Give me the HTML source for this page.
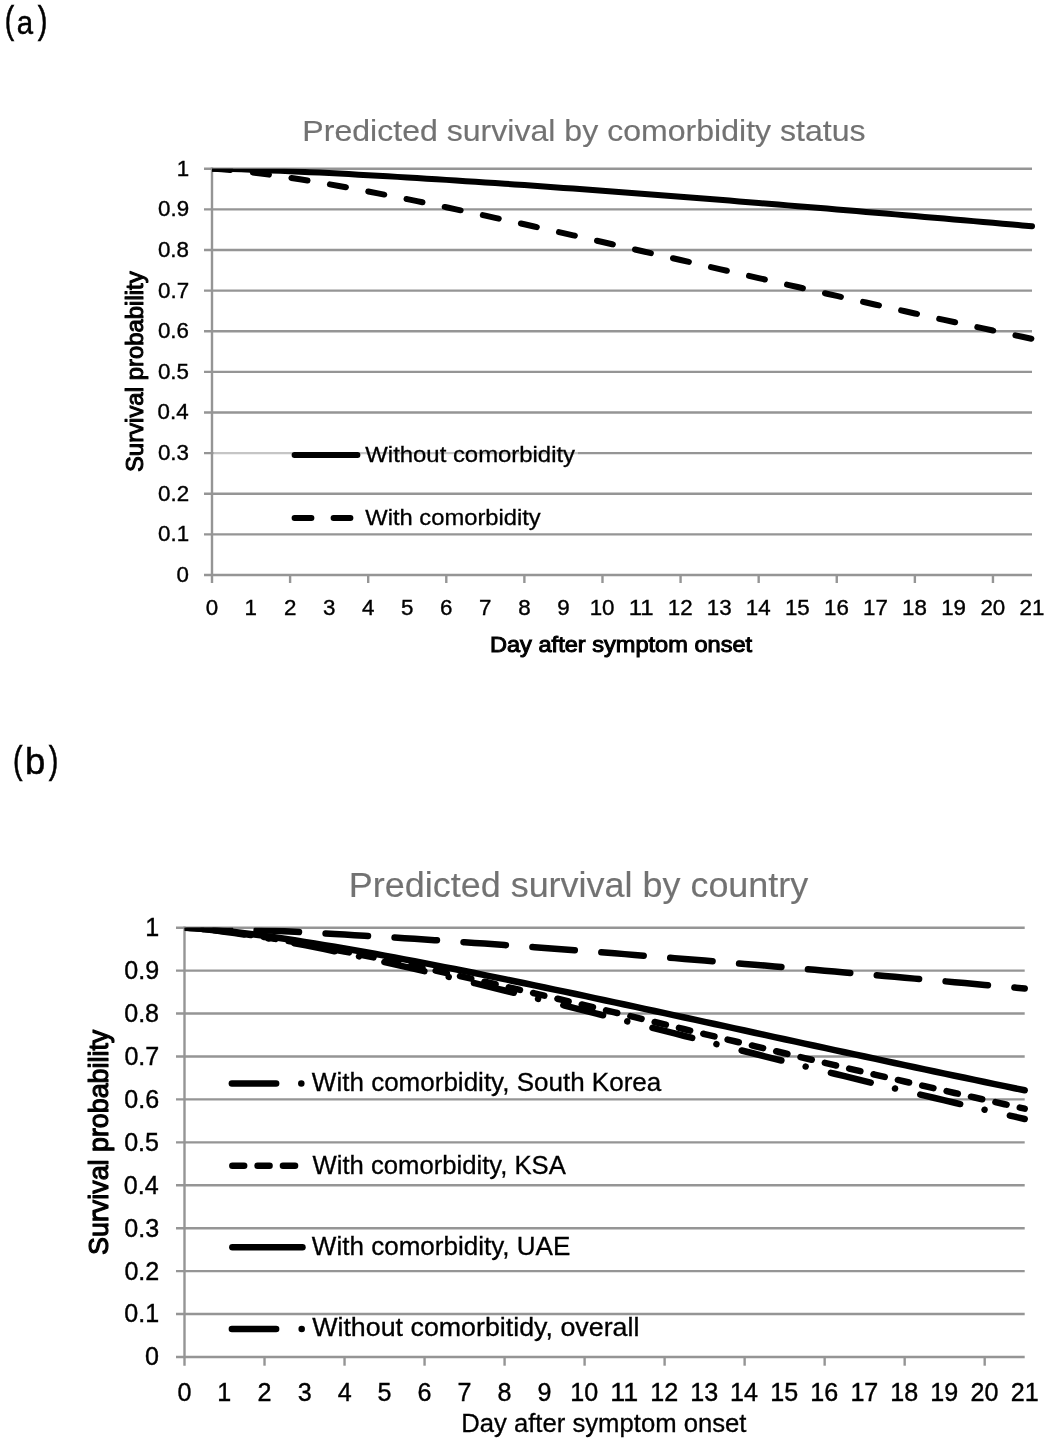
<!DOCTYPE html>
<html><head><meta charset="utf-8"><style>
html,body{margin:0;padding:0;background:#fff;width:1050px;height:1444px;overflow:hidden;position:relative;font-family:"Liberation Sans", sans-serif;}
</style></head><body>
<svg width="1050" height="1444" viewBox="0 0 1050 1444" style="position:absolute;left:0;top:0;will-change:transform">
<defs><clipPath id="ca"><rect x="212" y="168.7" width="830" height="420"/></clipPath><clipPath id="cb"><rect x="184.5" y="927.7" width="850" height="440"/></clipPath></defs>
<g font-family='"Liberation Sans", sans-serif'>
<text x="4.75" y="33.20" font-size="38.00" font-weight="normal" fill="#000" stroke="#000" stroke-width="0.6" textLength="9.42" lengthAdjust="spacingAndGlyphs">(</text>
<text x="16.65" y="34.00" font-size="33.40" font-weight="normal" fill="#000" stroke="#000" stroke-width="0.5" textLength="16.35" lengthAdjust="spacingAndGlyphs">a</text>
<text x="37.83" y="33.20" font-size="38.00" font-weight="normal" fill="#000" stroke="#000" stroke-width="0.6" textLength="9.67" lengthAdjust="spacingAndGlyphs">)</text>
<text x="302.37" y="141.10" font-size="30.20" font-weight="normal" fill="#727272" stroke="#727272" stroke-width="0.15" textLength="563.19" lengthAdjust="spacingAndGlyphs">Predicted survival by comorbidity status</text>
<line x1="204" y1="534.37" x2="1032" y2="534.37" stroke="#959595" stroke-width="2.4"/>
<line x1="204" y1="493.74" x2="1032" y2="493.74" stroke="#959595" stroke-width="2.4"/>
<line x1="204" y1="453.11" x2="1032" y2="453.11" stroke="#959595" stroke-width="2.4"/>
<line x1="204" y1="412.48" x2="1032" y2="412.48" stroke="#959595" stroke-width="2.4"/>
<line x1="204" y1="371.85" x2="1032" y2="371.85" stroke="#959595" stroke-width="2.4"/>
<line x1="204" y1="331.22" x2="1032" y2="331.22" stroke="#959595" stroke-width="2.4"/>
<line x1="204" y1="290.59" x2="1032" y2="290.59" stroke="#959595" stroke-width="2.4"/>
<line x1="204" y1="249.96" x2="1032" y2="249.96" stroke="#959595" stroke-width="2.4"/>
<line x1="204" y1="209.33" x2="1032" y2="209.33" stroke="#959595" stroke-width="2.4"/>
<line x1="204" y1="168.70" x2="1032" y2="168.70" stroke="#959595" stroke-width="2.4"/>
<line x1="204" y1="575" x2="1032" y2="575" stroke="#959595" stroke-width="2.4"/>
<line x1="212" y1="167.5" x2="212" y2="583" stroke="#959595" stroke-width="2.4"/>
<line x1="290.10" y1="575" x2="290.10" y2="583" stroke="#959595" stroke-width="2.4"/>
<line x1="368.19" y1="575" x2="368.19" y2="583" stroke="#959595" stroke-width="2.4"/>
<line x1="446.29" y1="575" x2="446.29" y2="583" stroke="#959595" stroke-width="2.4"/>
<line x1="524.38" y1="575" x2="524.38" y2="583" stroke="#959595" stroke-width="2.4"/>
<line x1="602.48" y1="575" x2="602.48" y2="583" stroke="#959595" stroke-width="2.4"/>
<line x1="680.57" y1="575" x2="680.57" y2="583" stroke="#959595" stroke-width="2.4"/>
<line x1="758.67" y1="575" x2="758.67" y2="583" stroke="#959595" stroke-width="2.4"/>
<line x1="836.76" y1="575" x2="836.76" y2="583" stroke="#959595" stroke-width="2.4"/>
<line x1="914.86" y1="575" x2="914.86" y2="583" stroke="#959595" stroke-width="2.4"/>
<line x1="992.95" y1="575" x2="992.95" y2="583" stroke="#959595" stroke-width="2.4"/>
<text x="176.45" y="582.00" font-size="22.80" font-weight="normal" fill="#000" stroke="#000" stroke-width="0.4" textLength="12.43" lengthAdjust="spacingAndGlyphs">0</text>
<text x="158.03" y="541.37" font-size="22.80" font-weight="normal" fill="#000" stroke="#000" stroke-width="0.4" textLength="31.06" lengthAdjust="spacingAndGlyphs">0.1</text>
<text x="158.06" y="500.74" font-size="22.80" font-weight="normal" fill="#000" stroke="#000" stroke-width="0.4" textLength="31.06" lengthAdjust="spacingAndGlyphs">0.2</text>
<text x="157.92" y="460.11" font-size="22.80" font-weight="normal" fill="#000" stroke="#000" stroke-width="0.4" textLength="31.06" lengthAdjust="spacingAndGlyphs">0.3</text>
<text x="157.59" y="419.48" font-size="22.80" font-weight="normal" fill="#000" stroke="#000" stroke-width="0.4" textLength="31.06" lengthAdjust="spacingAndGlyphs">0.4</text>
<text x="157.88" y="378.85" font-size="22.80" font-weight="normal" fill="#000" stroke="#000" stroke-width="0.4" textLength="31.06" lengthAdjust="spacingAndGlyphs">0.5</text>
<text x="157.92" y="338.22" font-size="22.80" font-weight="normal" fill="#000" stroke="#000" stroke-width="0.4" textLength="31.06" lengthAdjust="spacingAndGlyphs">0.6</text>
<text x="158.06" y="297.59" font-size="22.80" font-weight="normal" fill="#000" stroke="#000" stroke-width="0.4" textLength="31.06" lengthAdjust="spacingAndGlyphs">0.7</text>
<text x="157.91" y="256.96" font-size="22.80" font-weight="normal" fill="#000" stroke="#000" stroke-width="0.4" textLength="31.06" lengthAdjust="spacingAndGlyphs">0.8</text>
<text x="158.00" y="216.33" font-size="22.80" font-weight="normal" fill="#000" stroke="#000" stroke-width="0.4" textLength="31.06" lengthAdjust="spacingAndGlyphs">0.9</text>
<text x="176.66" y="175.70" font-size="22.80" font-weight="normal" fill="#000" stroke="#000" stroke-width="0.4" textLength="12.43" lengthAdjust="spacingAndGlyphs">1</text>
<text x="205.79" y="614.50" font-size="22.80" font-weight="normal" fill="#000" stroke="#000" stroke-width="0.4" textLength="12.43" lengthAdjust="spacingAndGlyphs">0</text>
<text x="244.53" y="614.50" font-size="22.80" font-weight="normal" fill="#000" stroke="#000" stroke-width="0.4" textLength="12.43" lengthAdjust="spacingAndGlyphs">1</text>
<text x="283.88" y="614.50" font-size="22.80" font-weight="normal" fill="#000" stroke="#000" stroke-width="0.4" textLength="12.43" lengthAdjust="spacingAndGlyphs">2</text>
<text x="322.99" y="614.50" font-size="22.80" font-weight="normal" fill="#000" stroke="#000" stroke-width="0.4" textLength="12.43" lengthAdjust="spacingAndGlyphs">3</text>
<text x="362.05" y="614.50" font-size="22.80" font-weight="normal" fill="#000" stroke="#000" stroke-width="0.4" textLength="12.43" lengthAdjust="spacingAndGlyphs">4</text>
<text x="401.05" y="614.50" font-size="22.80" font-weight="normal" fill="#000" stroke="#000" stroke-width="0.4" textLength="12.43" lengthAdjust="spacingAndGlyphs">5</text>
<text x="440.00" y="614.50" font-size="22.80" font-weight="normal" fill="#000" stroke="#000" stroke-width="0.4" textLength="12.43" lengthAdjust="spacingAndGlyphs">6</text>
<text x="479.11" y="614.50" font-size="22.80" font-weight="normal" fill="#000" stroke="#000" stroke-width="0.4" textLength="12.43" lengthAdjust="spacingAndGlyphs">7</text>
<text x="518.17" y="614.50" font-size="22.80" font-weight="normal" fill="#000" stroke="#000" stroke-width="0.4" textLength="12.43" lengthAdjust="spacingAndGlyphs">8</text>
<text x="557.22" y="614.50" font-size="22.80" font-weight="normal" fill="#000" stroke="#000" stroke-width="0.4" textLength="12.43" lengthAdjust="spacingAndGlyphs">9</text>
<text x="589.63" y="614.50" font-size="22.80" font-weight="normal" fill="#000" stroke="#000" stroke-width="0.4" textLength="24.85" lengthAdjust="spacingAndGlyphs">10</text>
<text x="628.79" y="614.50" font-size="22.80" font-weight="normal" fill="#000" stroke="#000" stroke-width="0.4" textLength="24.85" lengthAdjust="spacingAndGlyphs">11</text>
<text x="667.86" y="614.50" font-size="22.80" font-weight="normal" fill="#000" stroke="#000" stroke-width="0.4" textLength="24.85" lengthAdjust="spacingAndGlyphs">12</text>
<text x="706.83" y="614.50" font-size="22.80" font-weight="normal" fill="#000" stroke="#000" stroke-width="0.4" textLength="24.85" lengthAdjust="spacingAndGlyphs">13</text>
<text x="745.72" y="614.50" font-size="22.80" font-weight="normal" fill="#000" stroke="#000" stroke-width="0.4" textLength="24.85" lengthAdjust="spacingAndGlyphs">14</text>
<text x="784.91" y="614.50" font-size="22.80" font-weight="normal" fill="#000" stroke="#000" stroke-width="0.4" textLength="24.85" lengthAdjust="spacingAndGlyphs">15</text>
<text x="823.98" y="614.50" font-size="22.80" font-weight="normal" fill="#000" stroke="#000" stroke-width="0.4" textLength="24.85" lengthAdjust="spacingAndGlyphs">16</text>
<text x="863.09" y="614.50" font-size="22.80" font-weight="normal" fill="#000" stroke="#000" stroke-width="0.4" textLength="24.85" lengthAdjust="spacingAndGlyphs">17</text>
<text x="902.06" y="614.50" font-size="22.80" font-weight="normal" fill="#000" stroke="#000" stroke-width="0.4" textLength="24.85" lengthAdjust="spacingAndGlyphs">18</text>
<text x="941.16" y="614.50" font-size="22.80" font-weight="normal" fill="#000" stroke="#000" stroke-width="0.4" textLength="24.85" lengthAdjust="spacingAndGlyphs">19</text>
<text x="980.40" y="614.50" font-size="22.80" font-weight="normal" fill="#000" stroke="#000" stroke-width="0.4" textLength="24.85" lengthAdjust="spacingAndGlyphs">20</text>
<text x="1019.56" y="614.50" font-size="22.80" font-weight="normal" fill="#000" stroke="#000" stroke-width="0.4" textLength="24.85" lengthAdjust="spacingAndGlyphs">21</text>
<rect x="213.5" y="451" width="364.5" height="4" fill="#fff" opacity="0.45"/>
<text transform="translate(143.3,0) rotate(-90)" x="-472.09" y="0" font-size="23.30" font-weight="normal" stroke="#000" stroke-width="1.0" stroke-linejoin="round" textLength="200.73" lengthAdjust="spacingAndGlyphs">Survival probability</text>
<text x="489.96" y="652.00" font-size="22.40" font-weight="normal" fill="#000" stroke="#000" stroke-width="1.0" textLength="262.21" lengthAdjust="spacingAndGlyphs">Day after symptom onset</text>
<line x1="294.5" y1="455" x2="357.5" y2="455" stroke="#000" stroke-width="5.8" stroke-linecap="round"/>
<text x="365.30" y="461.70" font-size="21.60" font-weight="normal" fill="#000" stroke="#000" stroke-width="0.3" textLength="209.75" lengthAdjust="spacingAndGlyphs">Without comorbidity</text>
<line x1="294.5" y1="518" x2="311.5" y2="518" stroke="#000" stroke-width="5.8" stroke-linecap="round"/>
<line x1="333.5" y1="518" x2="350.5" y2="518" stroke="#000" stroke-width="5.8" stroke-linecap="round"/>
<text x="365.30" y="524.50" font-size="21.60" font-weight="normal" fill="#000" stroke="#000" stroke-width="0.3" textLength="175.45" lengthAdjust="spacingAndGlyphs">With comorbidity</text>
<path d="M212.00,168.70 L221.76,168.85 L231.52,169.09 L241.29,169.37 L251.05,169.70 L260.81,170.05 L270.57,170.42 L280.33,170.82 L290.10,171.25 L299.86,171.68 L309.62,172.14 L319.38,172.61 L329.14,173.10 L338.90,173.60 L348.67,174.12 L358.43,174.65 L368.19,175.19 L377.95,175.74 L387.71,176.30 L397.48,176.87 L407.24,177.46 L417.00,178.05 L426.76,178.65 L436.52,179.26 L446.29,179.88 L456.05,180.51 L465.81,181.14 L475.57,181.79 L485.33,182.44 L495.10,183.10 L504.86,183.76 L514.62,184.43 L524.38,185.11 L534.14,185.80 L543.90,186.49 L553.67,187.18 L563.43,187.89 L573.19,188.60 L582.95,189.31 L592.71,190.03 L602.48,190.76 L612.24,191.49 L622.00,192.22 L631.76,192.96 L641.52,193.71 L651.29,194.45 L661.05,195.21 L670.81,195.97 L680.57,196.73 L690.33,197.50 L700.10,198.27 L709.86,199.04 L719.62,199.82 L729.38,200.60 L739.14,201.39 L748.90,202.18 L758.67,202.97 L768.43,203.76 L778.19,204.56 L787.95,205.37 L797.71,206.17 L807.48,206.98 L817.24,207.79 L827.00,208.61 L836.76,209.42 L846.52,210.24 L856.29,211.07 L866.05,211.89 L875.81,212.72 L885.57,213.55 L895.33,214.38 L905.10,215.22 L914.86,216.05 L924.62,216.89 L934.38,217.73 L944.14,218.58 L953.90,219.42 L963.67,220.27 L973.43,221.12 L983.19,221.97 L992.95,222.83 L1002.71,223.68 L1012.48,224.54 L1022.24,225.40 L1032.00,226.26" fill="none" stroke="#000" stroke-width="6" stroke-linecap="round" stroke-linejoin="round" clip-path="url(#ca)"/>
<path d="M212.00,168.70 L221.76,169.25 L231.52,170.11 L241.29,171.13 L251.05,172.28 L260.81,173.53 L270.57,174.87 L280.33,176.29 L290.10,177.77 L299.86,179.32 L309.62,180.92 L319.38,182.57 L329.14,184.27 L338.90,186.01 L348.67,187.79 L358.43,189.61 L368.19,191.46 L377.95,193.34 L387.71,195.26 L397.48,197.20 L407.24,199.17 L417.00,201.16 L426.76,203.17 L436.52,205.21 L446.29,207.27 L456.05,209.34 L465.81,211.44 L475.57,213.54 L485.33,215.67 L495.10,217.81 L504.86,219.96 L514.62,222.12 L524.38,224.30 L534.14,226.48 L543.90,228.68 L553.67,230.88 L563.43,233.09 L573.19,235.31 L582.95,237.54 L592.71,239.77 L602.48,242.01 L612.24,244.25 L622.00,246.49 L631.76,248.74 L641.52,251.00 L651.29,253.25 L661.05,255.51 L670.81,257.76 L680.57,260.02 L690.33,262.28 L700.10,264.54 L709.86,266.80 L719.62,269.06 L729.38,271.31 L739.14,273.57 L748.90,275.82 L758.67,278.07 L768.43,280.31 L778.19,282.56 L787.95,284.80 L797.71,287.03 L807.48,289.26 L817.24,291.49 L827.00,293.71 L836.76,295.93 L846.52,298.14 L856.29,300.35 L866.05,302.55 L875.81,304.74 L885.57,306.93 L895.33,309.11 L905.10,311.28 L914.86,313.45 L924.62,315.61 L934.38,317.76 L944.14,319.91 L953.90,322.04 L963.67,324.17 L973.43,326.29 L983.19,328.40 L992.95,330.51 L1002.71,332.60 L1012.48,334.69 L1022.24,336.76 L1032.00,338.83" fill="none" stroke="#000" stroke-width="6" stroke-linecap="round" stroke-linejoin="round" stroke-dasharray="16.3 22.7" stroke-dashoffset="-2" clip-path="url(#ca)"/>
<text x="13.12" y="772.90" font-size="38.10" font-weight="normal" fill="#000" stroke="#000" stroke-width="0.6" textLength="9.55" lengthAdjust="spacingAndGlyphs">(</text>
<text x="25.05" y="773.50" font-size="36.40" font-weight="normal" fill="#000" stroke="#000" stroke-width="0.5" textLength="20.28" lengthAdjust="spacingAndGlyphs">b</text>
<text x="48.63" y="772.90" font-size="38.10" font-weight="normal" fill="#000" stroke="#000" stroke-width="0.6" textLength="9.55" lengthAdjust="spacingAndGlyphs">)</text>
<text x="348.85" y="896.60" font-size="34.90" font-weight="normal" fill="#727272" stroke="#727272" stroke-width="0.15" textLength="459.42" lengthAdjust="spacingAndGlyphs">Predicted survival by country</text>
<line x1="176" y1="1314.07" x2="1024.7" y2="1314.07" stroke="#959595" stroke-width="2.4"/>
<line x1="176" y1="1271.14" x2="1024.7" y2="1271.14" stroke="#959595" stroke-width="2.4"/>
<line x1="176" y1="1228.21" x2="1024.7" y2="1228.21" stroke="#959595" stroke-width="2.4"/>
<line x1="176" y1="1185.28" x2="1024.7" y2="1185.28" stroke="#959595" stroke-width="2.4"/>
<line x1="176" y1="1142.35" x2="1024.7" y2="1142.35" stroke="#959595" stroke-width="2.4"/>
<line x1="176" y1="1099.42" x2="1024.7" y2="1099.42" stroke="#959595" stroke-width="2.4"/>
<line x1="176" y1="1056.49" x2="1024.7" y2="1056.49" stroke="#959595" stroke-width="2.4"/>
<line x1="176" y1="1013.56" x2="1024.7" y2="1013.56" stroke="#959595" stroke-width="2.4"/>
<line x1="176" y1="970.63" x2="1024.7" y2="970.63" stroke="#959595" stroke-width="2.4"/>
<line x1="176" y1="927.70" x2="1024.7" y2="927.70" stroke="#959595" stroke-width="2.4"/>
<line x1="176" y1="1357" x2="1024.7" y2="1357" stroke="#959595" stroke-width="2.4"/>
<line x1="184.5" y1="926.5" x2="184.5" y2="1365.7" stroke="#959595" stroke-width="2.4"/>
<line x1="264.52" y1="1357" x2="264.52" y2="1365.7" stroke="#959595" stroke-width="2.4"/>
<line x1="344.54" y1="1357" x2="344.54" y2="1365.7" stroke="#959595" stroke-width="2.4"/>
<line x1="424.56" y1="1357" x2="424.56" y2="1365.7" stroke="#959595" stroke-width="2.4"/>
<line x1="504.58" y1="1357" x2="504.58" y2="1365.7" stroke="#959595" stroke-width="2.4"/>
<line x1="584.60" y1="1357" x2="584.60" y2="1365.7" stroke="#959595" stroke-width="2.4"/>
<line x1="664.61" y1="1357" x2="664.61" y2="1365.7" stroke="#959595" stroke-width="2.4"/>
<line x1="744.63" y1="1357" x2="744.63" y2="1365.7" stroke="#959595" stroke-width="2.4"/>
<line x1="824.65" y1="1357" x2="824.65" y2="1365.7" stroke="#959595" stroke-width="2.4"/>
<line x1="904.67" y1="1357" x2="904.67" y2="1365.7" stroke="#959595" stroke-width="2.4"/>
<line x1="984.69" y1="1357" x2="984.69" y2="1365.7" stroke="#959595" stroke-width="2.4"/>
<text x="145.03" y="1365.40" font-size="25.60" font-weight="normal" fill="#000" stroke="#000" stroke-width="0.4" textLength="13.95" lengthAdjust="spacingAndGlyphs">0</text>
<text x="124.35" y="1322.47" font-size="25.60" font-weight="normal" fill="#000" stroke="#000" stroke-width="0.4" textLength="34.88" lengthAdjust="spacingAndGlyphs">0.1</text>
<text x="124.39" y="1279.54" font-size="25.60" font-weight="normal" fill="#000" stroke="#000" stroke-width="0.4" textLength="34.88" lengthAdjust="spacingAndGlyphs">0.2</text>
<text x="124.23" y="1236.61" font-size="25.60" font-weight="normal" fill="#000" stroke="#000" stroke-width="0.4" textLength="34.88" lengthAdjust="spacingAndGlyphs">0.3</text>
<text x="123.86" y="1193.68" font-size="25.60" font-weight="normal" fill="#000" stroke="#000" stroke-width="0.4" textLength="34.88" lengthAdjust="spacingAndGlyphs">0.4</text>
<text x="124.18" y="1150.75" font-size="25.60" font-weight="normal" fill="#000" stroke="#000" stroke-width="0.4" textLength="34.88" lengthAdjust="spacingAndGlyphs">0.5</text>
<text x="124.23" y="1107.82" font-size="25.60" font-weight="normal" fill="#000" stroke="#000" stroke-width="0.4" textLength="34.88" lengthAdjust="spacingAndGlyphs">0.6</text>
<text x="124.39" y="1064.89" font-size="25.60" font-weight="normal" fill="#000" stroke="#000" stroke-width="0.4" textLength="34.88" lengthAdjust="spacingAndGlyphs">0.7</text>
<text x="124.21" y="1021.96" font-size="25.60" font-weight="normal" fill="#000" stroke="#000" stroke-width="0.4" textLength="34.88" lengthAdjust="spacingAndGlyphs">0.8</text>
<text x="124.31" y="979.03" font-size="25.60" font-weight="normal" fill="#000" stroke="#000" stroke-width="0.4" textLength="34.88" lengthAdjust="spacingAndGlyphs">0.9</text>
<text x="145.27" y="936.10" font-size="25.60" font-weight="normal" fill="#000" stroke="#000" stroke-width="0.4" textLength="13.95" lengthAdjust="spacingAndGlyphs">1</text>
<text x="177.52" y="1401.20" font-size="25.60" font-weight="normal" fill="#000" stroke="#000" stroke-width="0.4" textLength="13.95" lengthAdjust="spacingAndGlyphs">0</text>
<text x="217.19" y="1401.20" font-size="25.60" font-weight="normal" fill="#000" stroke="#000" stroke-width="0.4" textLength="13.95" lengthAdjust="spacingAndGlyphs">1</text>
<text x="257.54" y="1401.20" font-size="25.60" font-weight="normal" fill="#000" stroke="#000" stroke-width="0.4" textLength="13.95" lengthAdjust="spacingAndGlyphs">2</text>
<text x="297.63" y="1401.20" font-size="25.60" font-weight="normal" fill="#000" stroke="#000" stroke-width="0.4" textLength="13.95" lengthAdjust="spacingAndGlyphs">3</text>
<text x="337.64" y="1401.20" font-size="25.60" font-weight="normal" fill="#000" stroke="#000" stroke-width="0.4" textLength="13.95" lengthAdjust="spacingAndGlyphs">4</text>
<text x="377.60" y="1401.20" font-size="25.60" font-weight="normal" fill="#000" stroke="#000" stroke-width="0.4" textLength="13.95" lengthAdjust="spacingAndGlyphs">5</text>
<text x="417.50" y="1401.20" font-size="25.60" font-weight="normal" fill="#000" stroke="#000" stroke-width="0.4" textLength="13.95" lengthAdjust="spacingAndGlyphs">6</text>
<text x="457.58" y="1401.20" font-size="25.60" font-weight="normal" fill="#000" stroke="#000" stroke-width="0.4" textLength="13.95" lengthAdjust="spacingAndGlyphs">7</text>
<text x="497.60" y="1401.20" font-size="25.60" font-weight="normal" fill="#000" stroke="#000" stroke-width="0.4" textLength="13.95" lengthAdjust="spacingAndGlyphs">8</text>
<text x="537.62" y="1401.20" font-size="25.60" font-weight="normal" fill="#000" stroke="#000" stroke-width="0.4" textLength="13.95" lengthAdjust="spacingAndGlyphs">9</text>
<text x="570.18" y="1401.20" font-size="25.60" font-weight="normal" fill="#000" stroke="#000" stroke-width="0.4" textLength="27.91" lengthAdjust="spacingAndGlyphs">10</text>
<text x="610.31" y="1401.20" font-size="25.60" font-weight="normal" fill="#000" stroke="#000" stroke-width="0.4" textLength="27.91" lengthAdjust="spacingAndGlyphs">11</text>
<text x="650.34" y="1401.20" font-size="25.60" font-weight="normal" fill="#000" stroke="#000" stroke-width="0.4" textLength="27.91" lengthAdjust="spacingAndGlyphs">12</text>
<text x="690.27" y="1401.20" font-size="25.60" font-weight="normal" fill="#000" stroke="#000" stroke-width="0.4" textLength="27.91" lengthAdjust="spacingAndGlyphs">13</text>
<text x="730.09" y="1401.20" font-size="25.60" font-weight="normal" fill="#000" stroke="#000" stroke-width="0.4" textLength="27.91" lengthAdjust="spacingAndGlyphs">14</text>
<text x="770.26" y="1401.20" font-size="25.60" font-weight="normal" fill="#000" stroke="#000" stroke-width="0.4" textLength="27.91" lengthAdjust="spacingAndGlyphs">15</text>
<text x="810.30" y="1401.20" font-size="25.60" font-weight="normal" fill="#000" stroke="#000" stroke-width="0.4" textLength="27.91" lengthAdjust="spacingAndGlyphs">16</text>
<text x="850.38" y="1401.20" font-size="25.60" font-weight="normal" fill="#000" stroke="#000" stroke-width="0.4" textLength="27.91" lengthAdjust="spacingAndGlyphs">17</text>
<text x="890.31" y="1401.20" font-size="25.60" font-weight="normal" fill="#000" stroke="#000" stroke-width="0.4" textLength="27.91" lengthAdjust="spacingAndGlyphs">18</text>
<text x="930.37" y="1401.20" font-size="25.60" font-weight="normal" fill="#000" stroke="#000" stroke-width="0.4" textLength="27.91" lengthAdjust="spacingAndGlyphs">19</text>
<text x="970.60" y="1401.20" font-size="25.60" font-weight="normal" fill="#000" stroke="#000" stroke-width="0.4" textLength="27.91" lengthAdjust="spacingAndGlyphs">20</text>
<text x="1010.73" y="1401.20" font-size="25.60" font-weight="normal" fill="#000" stroke="#000" stroke-width="0.4" textLength="27.91" lengthAdjust="spacingAndGlyphs">21</text>
<text transform="translate(107.8,0) rotate(-90)" x="-1254.92" y="0" font-size="27.50" font-weight="normal" stroke="#000" stroke-width="1.15" stroke-linejoin="round" textLength="225.17" lengthAdjust="spacingAndGlyphs">Survival probability</text>
<text x="461.19" y="1432.40" font-size="25.70" font-weight="normal" fill="#000" stroke="#000" stroke-width="0.3" textLength="285.29" lengthAdjust="spacingAndGlyphs">Day after symptom onset</text>
<line x1="231.85" y1="1083.4" x2="276.15" y2="1083.4" stroke="#000" stroke-width="6.5" stroke-linecap="round"/>
<circle cx="301.3" cy="1083.4" r="3.25" fill="#000"/>
<text x="311.89" y="1091.40" font-size="25.40" font-weight="normal" fill="#000" stroke="#000" stroke-width="0.3" textLength="349.41" lengthAdjust="spacingAndGlyphs">With comorbidity, South Korea</text>
<line x1="232.35" y1="1165.7" x2="244.15" y2="1165.7" stroke="#000" stroke-width="6.5" stroke-linecap="round"/>
<line x1="257.55" y1="1165.7" x2="269.55" y2="1165.7" stroke="#000" stroke-width="6.5" stroke-linecap="round"/>
<line x1="282.95" y1="1165.7" x2="295.05" y2="1165.7" stroke="#000" stroke-width="6.5" stroke-linecap="round"/>
<text x="312.49" y="1173.70" font-size="25.40" font-weight="normal" fill="#000" stroke="#000" stroke-width="0.3" textLength="253.36" lengthAdjust="spacingAndGlyphs">With comorbidity, KSA</text>
<line x1="232.35" y1="1247.3" x2="302.45" y2="1247.3" stroke="#000" stroke-width="6.5" stroke-linecap="round"/>
<text x="311.89" y="1255.30" font-size="25.40" font-weight="normal" fill="#000" stroke="#000" stroke-width="0.3" textLength="258.42" lengthAdjust="spacingAndGlyphs">With comorbidity, UAE</text>
<line x1="231.85" y1="1329" x2="276.15" y2="1329" stroke="#000" stroke-width="6.5" stroke-linecap="round"/>
<circle cx="301.7" cy="1329" r="3.25" fill="#000"/>
<text x="312.18" y="1336.40" font-size="25.40" font-weight="normal" fill="#000" stroke="#000" stroke-width="0.3" textLength="327.20" lengthAdjust="spacingAndGlyphs">Without comorbitidy, overall</text>
<path d="M184.50,927.70 L194.50,927.86 L204.50,928.11 L214.51,928.41 L224.51,928.75 L234.51,929.12 L244.51,929.52 L254.52,929.94 L264.52,930.39 L274.52,930.85 L284.52,931.34 L294.53,931.84 L304.53,932.35 L314.53,932.88 L324.53,933.43 L334.54,933.98 L344.54,934.55 L354.54,935.14 L364.54,935.73 L374.55,936.34 L384.55,936.95 L394.55,937.58 L404.55,938.21 L414.55,938.86 L424.56,939.51 L434.56,940.18 L444.56,940.85 L454.56,941.53 L464.57,942.22 L474.57,942.91 L484.57,943.61 L494.57,944.32 L504.58,945.04 L514.58,945.76 L524.58,946.49 L534.58,947.23 L544.59,947.97 L554.59,948.72 L564.59,949.48 L574.59,950.24 L584.60,951.00 L594.60,951.78 L604.60,952.55 L614.60,953.33 L624.60,954.12 L634.61,954.91 L644.61,955.71 L654.61,956.51 L664.61,957.32 L674.62,958.13 L684.62,958.94 L694.62,959.76 L704.62,960.58 L714.63,961.41 L724.63,962.24 L734.63,963.07 L744.63,963.91 L754.64,964.75 L764.64,965.59 L774.64,966.44 L784.64,967.29 L794.65,968.15 L804.65,969.00 L814.65,969.86 L824.65,970.73 L834.65,971.59 L844.66,972.46 L854.66,973.34 L864.66,974.21 L874.66,975.09 L884.67,975.97 L894.67,976.85 L904.67,977.73 L914.67,978.62 L924.68,979.51 L934.68,980.40 L944.68,981.30 L954.68,982.19 L964.69,983.09 L974.69,983.99 L984.69,984.89 L994.69,985.79 L1004.70,986.70 L1014.70,987.61 L1024.70,988.51" fill="none" stroke="#000" stroke-width="6.5" stroke-linecap="round" stroke-linejoin="round" stroke-dasharray="42.5 26.6" stroke-dashoffset="-3" clip-path="url(#cb)"/>
<path d="M184.50,927.70 L194.50,928.19 L204.50,928.95 L214.51,929.87 L224.51,930.91 L234.51,932.04 L244.51,933.26 L254.52,934.55 L264.52,935.90 L274.52,937.31 L284.52,938.78 L294.53,940.29 L304.53,941.85 L314.53,943.46 L324.53,945.10 L334.54,946.77 L344.54,948.48 L354.54,950.23 L364.54,952.00 L374.55,953.80 L384.55,955.63 L394.55,957.48 L404.55,959.36 L414.55,961.26 L424.56,963.18 L434.56,965.12 L444.56,967.08 L454.56,969.05 L464.57,971.04 L474.57,973.05 L484.57,975.07 L494.57,977.11 L504.58,979.16 L514.58,981.22 L524.58,983.29 L534.58,985.38 L544.59,987.47 L554.59,989.57 L564.59,991.68 L574.59,993.80 L584.60,995.93 L594.60,998.06 L604.60,1000.20 L614.60,1002.35 L624.60,1004.50 L634.61,1006.65 L644.61,1008.81 L654.61,1010.98 L664.61,1013.14 L674.62,1015.31 L684.62,1017.48 L694.62,1019.66 L704.62,1021.83 L714.63,1024.01 L724.63,1026.18 L734.63,1028.36 L744.63,1030.54 L754.64,1032.71 L764.64,1034.89 L774.64,1037.06 L784.64,1039.23 L794.65,1041.41 L804.65,1043.58 L814.65,1045.74 L824.65,1047.91 L834.65,1050.07 L844.66,1052.23 L854.66,1054.38 L864.66,1056.53 L874.66,1058.68 L884.67,1060.83 L894.67,1062.96 L904.67,1065.10 L914.67,1067.23 L924.68,1069.35 L934.68,1071.47 L944.68,1073.59 L954.68,1075.70 L964.69,1077.80 L974.69,1079.89 L984.69,1081.98 L994.69,1084.07 L1004.70,1086.15 L1014.70,1088.22 L1024.70,1090.28" fill="none" stroke="#000" stroke-width="6.5" stroke-linecap="round" stroke-linejoin="round" clip-path="url(#cb)"/>
<path d="M184.50,927.70 L194.50,928.26 L204.50,929.14 L214.51,930.19 L224.51,931.39 L234.51,932.69 L244.51,934.09 L254.52,935.57 L264.52,937.12 L274.52,938.74 L284.52,940.42 L294.53,942.15 L304.53,943.94 L314.53,945.77 L324.53,947.65 L334.54,949.56 L344.54,951.52 L354.54,953.51 L364.54,955.53 L374.55,957.58 L384.55,959.66 L394.55,961.77 L404.55,963.91 L414.55,966.06 L424.56,968.24 L434.56,970.45 L444.56,972.67 L454.56,974.91 L464.57,977.16 L474.57,979.43 L484.57,981.72 L494.57,984.02 L504.58,986.33 L514.58,988.66 L524.58,990.99 L534.58,993.34 L544.59,995.70 L554.59,998.06 L564.59,1000.43 L574.59,1002.81 L584.60,1005.19 L594.60,1007.58 L604.60,1009.98 L614.60,1012.38 L624.60,1014.78 L634.61,1017.18 L644.61,1019.59 L654.61,1022.00 L664.61,1024.41 L674.62,1026.82 L684.62,1029.23 L694.62,1031.65 L704.62,1034.06 L714.63,1036.47 L724.63,1038.88 L734.63,1041.28 L744.63,1043.69 L754.64,1046.09 L764.64,1048.48 L774.64,1050.88 L784.64,1053.27 L794.65,1055.65 L804.65,1058.04 L814.65,1060.41 L824.65,1062.78 L834.65,1065.15 L844.66,1067.51 L854.66,1069.86 L864.66,1072.21 L874.66,1074.55 L884.67,1076.88 L894.67,1079.21 L904.67,1081.52 L914.67,1083.83 L924.68,1086.14 L934.68,1088.43 L944.68,1090.72 L954.68,1092.99 L964.69,1095.26 L974.69,1097.52 L984.69,1099.77 L994.69,1102.01 L1004.70,1104.24 L1014.70,1106.46 L1024.70,1108.68" fill="none" stroke="#000" stroke-width="6.5" stroke-linecap="round" stroke-linejoin="round" stroke-dasharray="11.5 13.5" stroke-dashoffset="-5" clip-path="url(#cb)"/>
<path d="M184.50,927.70 L194.50,928.30 L204.50,929.25 L214.51,930.39 L224.51,931.67 L234.51,933.07 L244.51,934.58 L254.52,936.17 L264.52,937.84 L274.52,939.58 L284.52,941.39 L294.53,943.25 L304.53,945.17 L314.53,947.14 L324.53,949.15 L334.54,951.21 L344.54,953.31 L354.54,955.44 L364.54,957.61 L374.55,959.81 L384.55,962.04 L394.55,964.30 L404.55,966.58 L414.55,968.89 L424.56,971.22 L434.56,973.57 L444.56,975.95 L454.56,978.34 L464.57,980.75 L474.57,983.17 L484.57,985.61 L494.57,988.06 L504.58,990.53 L514.58,993.00 L524.58,995.49 L534.58,997.99 L544.59,1000.49 L554.59,1003.00 L564.59,1005.52 L574.59,1008.05 L584.60,1010.58 L594.60,1013.11 L604.60,1015.65 L614.60,1018.19 L624.60,1020.74 L634.61,1023.28 L644.61,1025.83 L654.61,1028.38 L664.61,1030.92 L674.62,1033.47 L684.62,1036.02 L694.62,1038.56 L704.62,1041.10 L714.63,1043.64 L724.63,1046.18 L734.63,1048.71 L744.63,1051.24 L754.64,1053.76 L764.64,1056.28 L774.64,1058.79 L784.64,1061.30 L794.65,1063.80 L804.65,1066.30 L814.65,1068.79 L824.65,1071.27 L834.65,1073.75 L844.66,1076.21 L854.66,1078.67 L864.66,1081.12 L874.66,1083.56 L884.67,1085.99 L894.67,1088.42 L904.67,1090.83 L914.67,1093.24 L924.68,1095.63 L934.68,1098.02 L944.68,1100.39 L954.68,1102.75 L964.69,1105.11 L974.69,1107.45 L984.69,1109.78 L994.69,1112.10 L1004.70,1114.41 L1014.70,1116.70 L1024.70,1118.99" fill="none" stroke="#000" stroke-width="6.5" stroke-linecap="round" stroke-linejoin="round" stroke-dasharray="41 25 0.01 26" stroke-dashoffset="-19" clip-path="url(#cb)"/>
</g></svg>
</body></html>
